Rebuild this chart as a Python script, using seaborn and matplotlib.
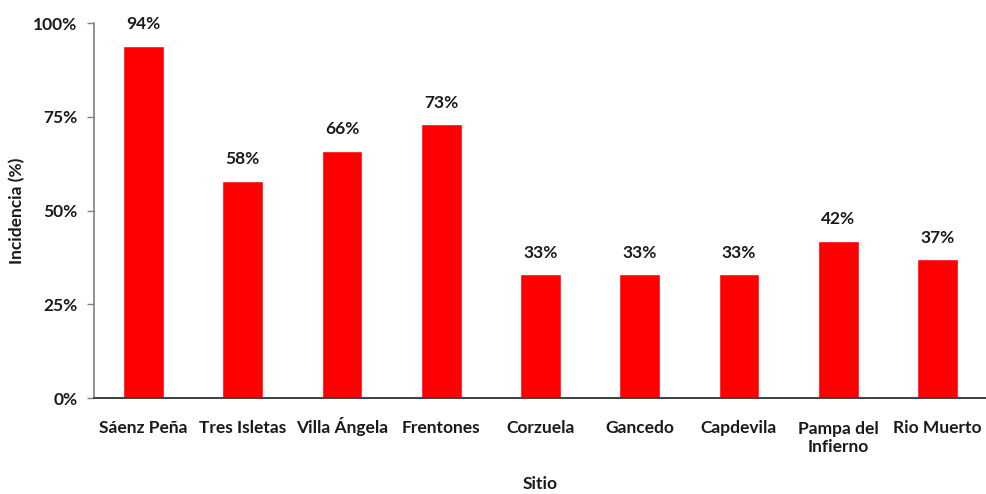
import matplotlib
matplotlib.use("Agg")
import matplotlib.pyplot as plt
import seaborn as sns
import pandas as pd
from matplotlib.ticker import PercentFormatter

sitios = ["Sáenz Peña", "Tres Isletas", "Villa Ángela", "Frentones", "Corzuela",
          "Gancedo", "Capdevila", "Pampa del\nInfierno", "Rio Muerto"]
incidencia = [94, 58, 66, 73, 33, 33, 33, 42, 37]
yticks = [0, 25, 50, 75, 100]

df = pd.DataFrame({"Sitio": sitios, "Incidencia": incidencia})

sns.set_theme(style="white")
plt.rcParams["font.family"] = ["Lato", "DejaVu Sans"]
plt.rcParams["font.weight"] = "bold"

FS = 12.5
TXT = "#1a1a1a"

fig = plt.figure(figsize=(9.87, 4.94), dpi=100)
ax = fig.add_axes([0.0952, 0.1943, 0.9048, 0.7591])

sns.barplot(data=df, x="Sitio", y="Incidencia", color="#ff0000", saturation=1,
            width=0.41, ax=ax)

for i, v in enumerate(incidencia):
    ax.text(i, v + 4.3, f"{v}%", ha="center", va="baseline", fontsize=FS,
            fontweight="bold", color=TXT)

ax.set_ylim(0, 100)
ax.set_xlim(-0.5, len(sitios) - 0.5)
ax.set_yticks(yticks)
ax.yaxis.set_major_formatter(PercentFormatter(decimals=0))
ax.tick_params(axis="y", which="major", direction="out", length=5, width=1,
               color="#808080", labelsize=FS, pad=7, left=True)
ax.tick_params(axis="x", length=0, labelsize=FS, pad=25)

# first-line baselines aligned; two-line names drop their second line below
line_h = 19 / (0.7591 * 494)
for lab in ax.get_xticklabels():
    lab.set_verticalalignment("baseline")
    n_lines = lab.get_text().count("\n")
    if n_lines:
        lab.set_linespacing(1.1)
        lab.set_y(-n_lines * line_h)
for lab in ax.get_xticklabels() + ax.get_yticklabels():
    lab.set_fontweight("bold")
    lab.set_color(TXT)

ax.set_xlabel("Sitio", fontsize=FS, fontweight="bold", color=TXT)
ax.xaxis.set_label_coords(0.5, -0.207, transform=ax.transAxes)
ax.set_ylabel("Incidencia (%)", fontsize=FS, fontweight="bold", color=TXT)
ax.yaxis.set_label_coords(-0.077, 0.5, transform=ax.transAxes)

for side in ["top", "right"]:
    ax.spines[side].set_visible(False)
ax.spines["left"].set_color("#808080")
ax.spines["left"].set_linewidth(1.2)
ax.spines["bottom"].set_color("#404040")
ax.spines["bottom"].set_linewidth(1.4)

fig.savefig("out.png", dpi=100)
